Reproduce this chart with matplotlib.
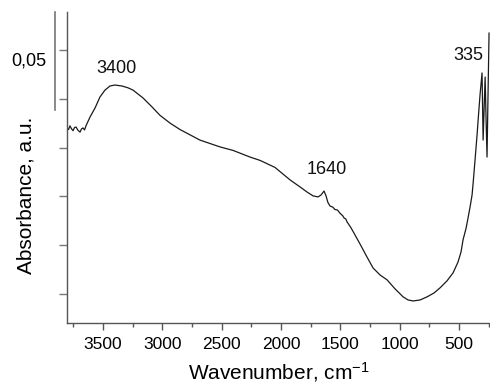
import matplotlib
matplotlib.use("Agg")
import matplotlib.pyplot as plt
import matplotlib.transforms as mtransforms
from matplotlib.ticker import MultipleLocator

plt.rcParams['font.family'] = ['Liberation Sans', 'DejaVu Sans']
plt.rcParams['mathtext.fontset'] = 'custom'
plt.rcParams['mathtext.rm'] = 'Liberation Sans'
plt.rcParams['mathtext.it'] = 'Liberation Sans:italic'

# IR spectrum (wavenumber cm-1, absorbance a.u.)
wavenumber = [3803, 3790, 3778, 3765, 3752, 3740, 3727, 3710, 3693, 3680,
              3668, 3655, 3643, 3609, 3567, 3525,
              3483, 3441, 3399, 3340, 3290, 3247, 3163, 3087, 3020, 2935, 2851,
              2683, 2514, 2404, 2261, 2177, 2051, 1924, 1840, 1781, 1730,
              1688, 1663, 1638, 1621, 1605, 1587, 1565, 1545, 1525, 1503, 1480,
              1469, 1455, 1444, 1410,
              1377, 1326, 1276, 1225, 1166, 1107, 1040, 972, 930, 888,
              829, 770, 711, 661, 602, 551, 509, 484, 467, 441,
              425, 408, 391, 382, 366, 349, 340, 324, 307, 298,
              290, 281, 273, 265, 256, 248]
absorbance = [0.0850, 0.0842, 0.0861, 0.0846, 0.0836, 0.0852, 0.0855, 0.0838, 0.0829, 0.0846,
              0.0850, 0.0840, 0.0861, 0.0906, 0.0952, 0.1009,
              0.1044, 0.1065, 0.1070, 0.1065, 0.1056, 0.1044, 0.1004, 0.0958, 0.0915, 0.0875, 0.0842,
              0.0788, 0.0753, 0.0735, 0.0701, 0.0684, 0.0648, 0.0584, 0.0548, 0.0522, 0.0502,
              0.0497, 0.0507, 0.0527, 0.0502, 0.0468, 0.0450, 0.0445, 0.0432, 0.0430, 0.0413, 0.0400,
              0.0389, 0.0384, 0.0369, 0.0338,
              0.0302, 0.0246, 0.0189, 0.0133, 0.0097, 0.0072, 0.0026, -0.0015, -0.0031, -0.0036,
              -0.0031, -0.0015, 0.0005, 0.0031, 0.0067, 0.0108, 0.0164, 0.0215, 0.0277, 0.0338,
              0.0389, 0.0445, 0.0507, 0.0568, 0.0686, 0.0814, 0.0891, 0.1019, 0.1132, 0.0788,
              0.0942, 0.1111, 0.0891, 0.0701, 0.1044, 0.1336]

x_ticks = [3500, 3000, 2500, 2000, 1500, 1000, 500]
peak_labels = ["3400", "1640", "335"]
peak_pos = [(3382, 0.1157), (1613, 0.0635), (425, 0.1219)]
scale_value = 0.05
scale_label = "0,05"

fig = plt.figure(figsize=(4.9, 3.85), dpi=100)
ax = fig.add_axes([0.1367, 0.1610, 0.8633, 0.8078])

ax.plot(wavenumber, absorbance, color='#1a1a1a', lw=0.9)

ax.set_xlim(3803, 240)
ax.set_ylim(-0.0149, 0.1444)
ax.set_xticks(x_ticks)
ax.set_xticklabels([str(t) for t in x_ticks])
ax.xaxis.set_minor_locator(MultipleLocator(250))
ax.yaxis.set_major_locator(MultipleLocator(0.025))
ax.set_yticklabels([])

for s in ['top', 'right']:
    ax.spines[s].set_visible(False)
for s in ['left', 'bottom']:
    ax.spines[s].set_color('#555555')
    ax.spines[s].set_linewidth(1.0)

ax.tick_params(axis='x', which='major', direction='out', length=5, width=1,
               color='#555555', labelsize=12.5, pad=5)
ax.tick_params(axis='x', which='minor', direction='out', length=3, width=1,
               color='#555555')
ax.tick_params(axis='y', which='major', direction='out', length=6, width=1,
               color='#777777')

for lab, (px, py) in zip(peak_labels, peak_pos):
    ax.text(px, py, lab, fontsize=13, ha='center', va='center', color='#111111')

# scale bar (0.05 absorbance units) outside left of axes
trans = mtransforms.blended_transform_factory(ax.transAxes, ax.transData)
top = ax.get_ylim()[1]
ax.plot([-0.028, -0.028], [top, top - scale_value], transform=trans,
        color='#777777', lw=1.2, clip_on=False)
fig.text(29 / 490, 1 - 61 / 385, scale_label, fontsize=13, ha='center', va='center')

fig.text(26 / 490, 1 - 195 / 385, "Absorbance, a.u.", fontsize=15, rotation=90,
         ha='center', va='center')
fig.text(279 / 490, 1 - 379 / 385, "Wavenumber, cm$^{-1}$", fontsize=15,
         ha='center', va='baseline')

fig.savefig("out.png", dpi=100)
